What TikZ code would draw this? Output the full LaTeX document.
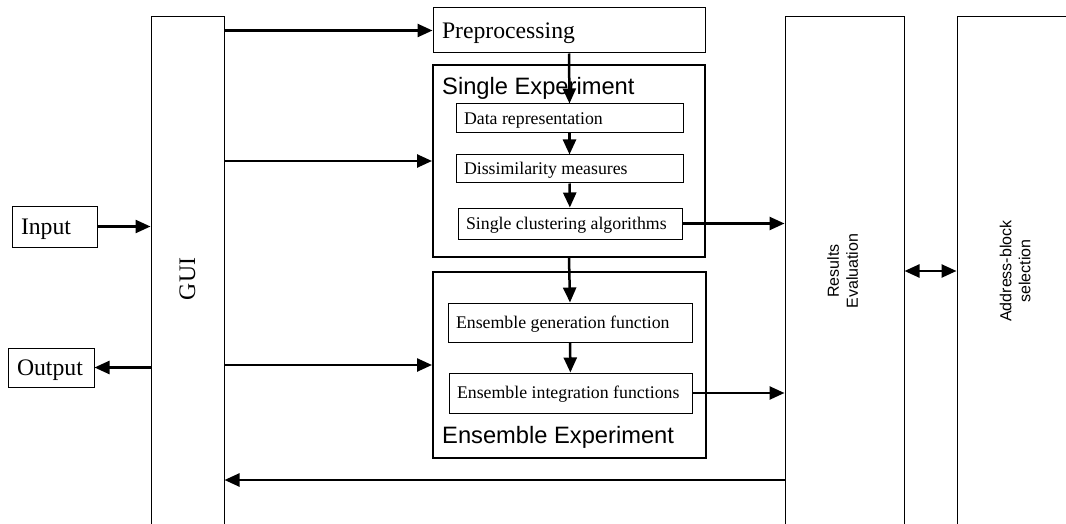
\documentclass[tikz,border=0pt]{standalone}
\usepackage{fontspec}
\setmainfont{Liberation Serif}
\setsansfont{Liberation Sans}
\usetikzlibrary{arrows.meta,calc,positioning}

\newcommand{\boxtext}[2]{\makebox[#1][l]{#2}}

\tikzset{
  >={Triangle[length=15pt,width=13pt]},
  box/.style={draw,line width=1pt,inner xsep=9pt,inner ysep=0pt,text height=21pt,text depth=5.4pt,font=\fontsize{23.7}{26}\selectfont},
  subbox/.style={draw,line width=1pt,inner xsep=8pt,inner ysep=0pt,text height=16pt,text depth=4.25pt,font=\fontsize{17.8}{20}\selectfont},
  frame/.style={draw,line width=2pt,inner sep=0pt},
  column/.style={draw,line width=1pt,inner sep=0pt},
  frametitle/.style={anchor=base west,inner sep=0pt,font=\sffamily\fontsize{23.7}{26}\selectfont},
  arr/.style={line width=2.5pt,->},
}

\begin{document}
\begin{tikzpicture}[x=1pt,y=-1pt]
\useasboundingbox (0,0) rectangle (1066,524);
\clip (0,0) rectangle (1066,524);

% Columns
\node[column,minimum width=73pt,minimum height=524pt] (gui) at (187.5,279)
  {\rotatebox{90}{\fontsize{23.7}{26}\selectfont GUI}};
\node[column,minimum width=119pt,minimum height=508pt] (res) at (844.5,271)
  {\rotatebox{90}{\sffamily\fontsize{16}{19}\selectfont\begin{tabular}{@{}c@{}}Results\\Evaluation\end{tabular}}};
\node[column,minimum width=120pt,minimum height=508pt] (abs) at (1017,271)
  {\rotatebox{90}{\sffamily\fontsize{16}{19}\selectfont\begin{tabular}{@{}c@{}}Address-block\\selection\end{tabular}}};

% Input / output
\node[box,minimum height=41pt] (input) at (54.5,226.5) {\boxtext{67pt}{Input}};
\node[box,minimum height=39pt] (output) at (51,367.5) {\boxtext{68pt}{Output}};

% Preprocessing
\node[box,minimum height=45pt] (pre) at (569,30.5) {\boxtext{254pt}{Preprocessing}};

% Single experiment
\node[frame,minimum width=272pt,minimum height=192pt] (se) at (569,161) {};
\node[frametitle] (setitle) at (442,95) {Single Experiment};
\node[subbox,minimum height=29pt] (dr) at (569.5,118.5) {\boxtext{211pt}{Data representation}};
\node[subbox,minimum height=28pt] (dm) at (569.5,169) {\boxtext{211pt}{Dissimilarity measures}};
\node[subbox,minimum height=31pt] (sca) at (570,223.5) {\boxtext{208pt}{Single clustering algorithms}};

% Ensemble experiment
\node[frame,minimum width=273pt,minimum height=186pt] (ee) at (569.5,365) {};
\node[frametitle] (eetitle) at (442,443) {Ensemble Experiment};
\node[subbox,minimum height=39pt] (eg) at (570,322.5) {\boxtext{228pt}{Ensemble generation function}};
\node[subbox,minimum height=40pt] (ei) at (570.5,393) {\boxtext{227pt}{Ensemble integration functions}};

% Connectors
\draw[arr] (input.east) -- (input.east -| gui.west);
\draw[arr] (gui.west |- output.east) -- (output.east);
\draw[arr] (gui.east |- pre.west) -- (pre.west);
\draw[arr] (gui.east |- se.west) -- (se.west);
\draw[arr] (gui.east |- ee.west) -- (ee.west);
\draw[arr] (pre.south) -- (dr.north);
\draw[arr] (dr) -- (dm);
\draw[arr] (dm) -- (sca);
\draw[arr] (se.south) -- (eg.north);
\draw[arr] (eg) -- (ei);
\draw[arr] (sca.east) -- (sca.east -| res.west);
\draw[arr] (ei.east) -- (ei.east -| res.west);
\coordinate (back) at (res.west |- 0,480);
\draw[arr] (back) -- (back -| gui.east);
\draw[arr,<->] (res.east) -- (abs.west);
\end{tikzpicture}
\end{document}
